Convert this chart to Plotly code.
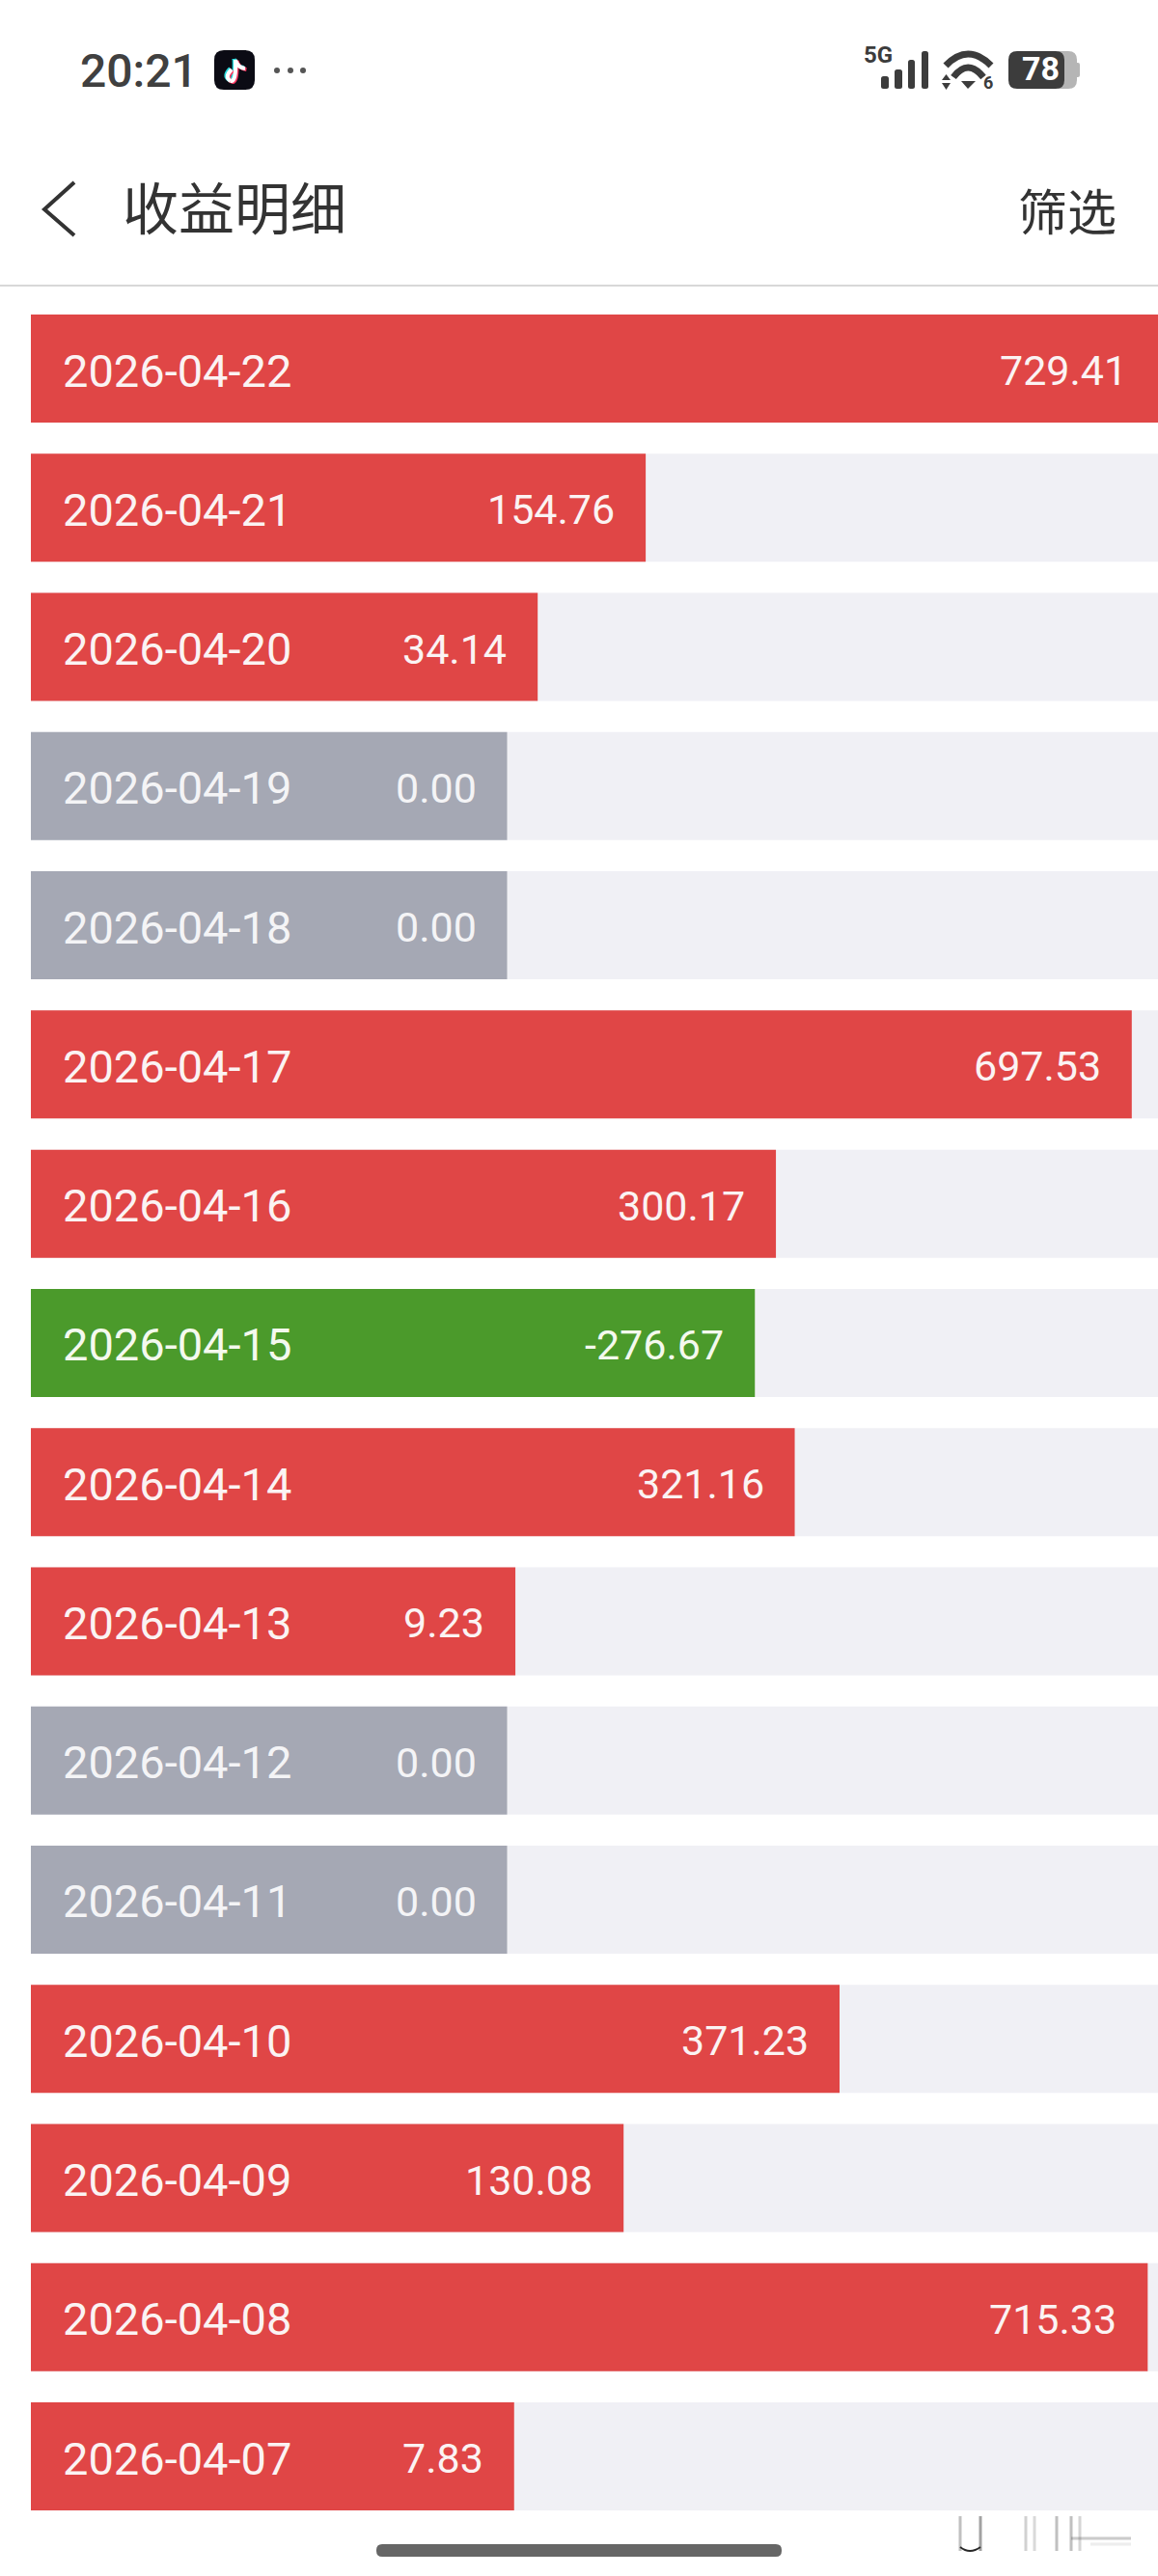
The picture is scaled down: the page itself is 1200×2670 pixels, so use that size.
import plotly.graph_objects as go

dates = ["2026-04-22","2026-04-21","2026-04-20","2026-04-19","2026-04-18","2026-04-17","2026-04-16","2026-04-15",
         "2026-04-14","2026-04-13","2026-04-12","2026-04-11","2026-04-10","2026-04-09","2026-04-08","2026-04-07"]
values = [729.41,154.76,34.14,0.00,0.00,697.53,300.17,-276.67,321.16,9.23,0.00,0.00,371.23,130.08,715.33,7.83]

RED, GREEN, GREY, TRACK = "#E04646", "#4B9A2B", "#A5A8B4", "#F0F0F5"
W, H = 1200, 2670
PX_PER_UNIT = 0.928                 # scale of the bar axis
ZERO_PX, LEFT_PX = 525.5, 32        # where a zero value ends; where bars start
STUB = (ZERO_PX - LEFT_PX) / PX_PER_UNIT
XMIN = -ZERO_PX / PX_PER_UNIT
XMAX = (W - ZERO_PX) / PX_PER_UNIT

colors = [RED if v > 0 else GREEN if v < 0 else GREY for v in values]
magnitudes = [abs(v) for v in values]

fig = go.Figure()
fig.add_bar(y=dates, x=[XMAX + STUB] * len(dates), base=-STUB, orientation="h",
            marker=dict(color=TRACK, line_width=0), hoverinfo="skip")
fig.add_bar(y=dates, x=[m + STUB for m in magnitudes], base=-STUB, orientation="h",
            marker=dict(color=colors, line_width=0), customdata=values,
            hovertemplate="%{y}: %{customdata:.2f}<extra></extra>")

FONT = "Roboto, sans-serif"
CJK = "Noto Sans CJK SC, sans-serif"
annotations = []
def px_text(x, y, text, size, color, anchor="left", family=FONT, weight=None):
    f = dict(size=size, color=color, family=family)
    if weight:
        f["weight"] = weight
    annotations.append(dict(xref="paper", yref="paper", x=x / W, y=1 - y / H, text=text, showarrow=False,
                            xanchor=anchor, yanchor="middle", font=f, borderpad=0, borderwidth=0))

for d, v, m in zip(dates, values, magnitudes):
    tcol = "#F4F9EE" if v < 0 else "#FBF3F3" if v > 0 else "#F4F4F6"
    annotations.append(dict(xref="paper", yref="y", x=63 / W, y=d, yshift=-2, text=d, showarrow=False, xanchor="left",
                            yanchor="middle", font=dict(size=47, color=tcol, family=FONT)))
    annotations.append(dict(xref="x", yref="y", x=min(m, XMAX), y=d, xshift=-30, yshift=-2, text=f"{v:.2f}", showarrow=False,
                            xanchor="right", yanchor="middle", font=dict(size=43, color=tcol, family=FONT)))

# chrome
px_text(83, 74, "20:21", 48, "#404040", weight=500)
px_text(1055, 217, "筛选", 51, "#333333", family=CJK)
px_text(127, 213, "收益明细", 58, "#333333", family=CJK)
px_text(895, 57, "5G", 24, "#3c3c3c", weight=700)
px_text(1019, 86, "6", 18, "#3c3c3c", weight=700)
px_text(1078, 71, "78", 34, "#ffffff", anchor="center", weight=700)

shapes = []
def X(x): return x / W
def Y(y): return 1 - y / H
def path(pts_d, fill=None, line=None, lw=0, opacity=1):
    shapes.append(dict(type="path", xref="paper", yref="paper", path=pts_d, fillcolor=fill or "rgba(0,0,0,0)",
                       line=dict(color=line or "rgba(0,0,0,0)", width=lw), opacity=opacity, layer="above"))
def rrect(x0, y0, x1, y1, r, fill):
    d = (f"M{X(x0+r)},{Y(y0)} L{X(x1-r)},{Y(y0)} Q{X(x1)},{Y(y0)} {X(x1)},{Y(y0+r)} L{X(x1)},{Y(y1-r)} "
         f"Q{X(x1)},{Y(y1)} {X(x1-r)},{Y(y1)} L{X(x0+r)},{Y(y1)} Q{X(x0)},{Y(y1)} {X(x0)},{Y(y1-r)} "
         f"L{X(x0)},{Y(y0+r)} Q{X(x0)},{Y(y0)} {X(x0+r)},{Y(y0)} Z")
    path(d, fill=fill)
def poly(pts, fill=None, line=None, lw=0, close=True, opacity=1):
    d = "M" + " L".join(f"{X(a)},{Y(b)}" for a, b in pts) + (" Z" if close else "")
    path(d, fill=fill, line=line, lw=lw, opacity=opacity)
def quad(a, c, b, line, lw, opacity=1):
    path(f"M{X(a[0])},{Y(a[1])} Q{X(c[0])},{Y(c[1])} {X(b[0])},{Y(b[1])}", line=line, lw=lw, opacity=opacity)

# divider, back chevron, home bar
poly([(0, 296), (W, 296)], line="#D8D8D8", lw=2, close=False)
poly([(77, 189), (46, 217), (77, 244)], line="#333333", lw=4, close=False)
rrect(390, 2637, 810, 2650, 6, "#666666")

# signal
for x0, x1, top in [(913, 921, 79), (927, 935, 72), (941, 948, 62), (955, 962, 53)]:
    rrect(x0, top, x1, 92, 2.5, "#3c3c3c")
# wifi
quad((980, 68), (1003, 44), (1027, 68), "#3c3c3c", 7)
quad((988, 80), (1003, 60), (1019, 80), "#3c3c3c", 7)
poly([(996, 84), (1011, 84), (1003, 92)], fill="#3c3c3c")
poly([(976, 83), (985, 83), (980.5, 77)], fill="#3c3c3c")
poly([(976, 86), (985, 86), (980.5, 93)], fill="#3c3c3c")
# battery
rrect(1090, 53, 1116, 92, 9, "#B5B5B5")
rrect(1114, 65, 1119, 80, 2, "#B5B5B5")
rrect(1045, 53, 1103, 92, 9, "#3C3C3C")

# tiktok icon
rrect(222, 52, 264, 93, 10, "#0B0B14")
for dx, dy, col in [(-1.4, -1.0, "#25D9DC"), (1.4, 1.0, "#FB3A63"), (0, 0, "#FFFFFF")]:
    quad((244 + dx, 62 + dy), (245 + dx, 85 + dy), (239 + dx, 84 + dy), col, 4)
    quad((239 + dx, 84 + dy), (232 + dx, 80 + dy), (240 + dx, 72 + dy), col, 4)
    quad((244 + dx, 62 + dy), (246 + dx, 70 + dy), (254 + dx, 71 + dy), col, 4)
# dots
for cx in (287, 301, 314):
    rrect(cx - 3, 70, cx + 3, 76, 3, "#555555")

# faint scan mark at the bottom right
quad((995, 2640), (1005, 2648), (1016, 2640), "#111111", 2, 0.9)
for x, op in [(995, 0.3), (1016, 0.45), (1063, 0.22), (1072, 0.18), (1095, 0.3), (1110, 0.3), (1119, 0.2)]:
    poly([(x, 2608), (x, 2644)], line="#333333", lw=3, close=False, opacity=op)
poly([(1110, 2631), (1172, 2631)], line="#555555", lw=3, close=False, opacity=0.3)
poly([(1130, 2637), (1172, 2637)], line="#555555", lw=3, close=False, opacity=0.1)

pitch = 144.27
first_center = 382
ytop = first_center - pitch / 2
ybot = first_center + pitch * (len(dates) - 0.5)

fig.update_layout(
    width=W, height=H, autosize=False, margin=dict(l=0, r=0, t=0, b=0, pad=0),
    paper_bgcolor="#FFFFFF", plot_bgcolor="#FFFFFF", barmode="overlay", bargap=1 - 112 / pitch,
    showlegend=False, annotations=annotations, shapes=shapes,
    xaxis=dict(range=[XMIN, XMAX], visible=False, fixedrange=True),
    yaxis=dict(type="category", categoryorder="array", categoryarray=dates, range=[len(dates) - 0.5, -0.5],
               domain=[1 - ybot / H, 1 - ytop / H], visible=False, fixedrange=True),
)
fig.write_html("out.html", config=dict(displayModeBar=False),
               post_script="document.body.style.margin='0';document.documentElement.style.overflow='hidden';")
